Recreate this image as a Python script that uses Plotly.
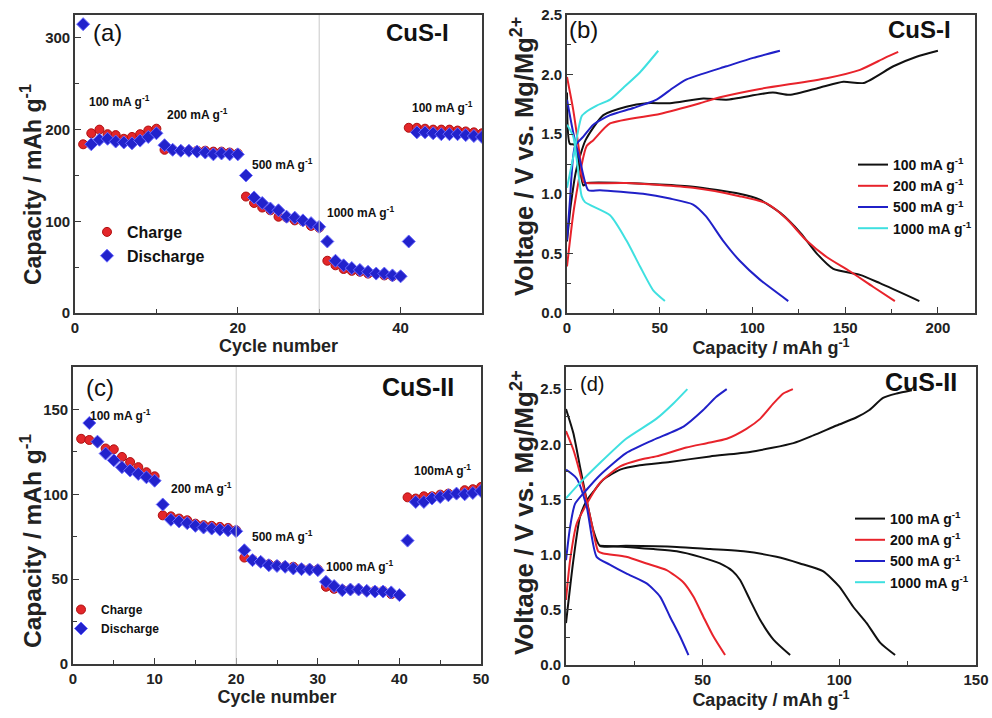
import plotly.graph_objects as go

# ---------------- data ----------------
cycles = list(range(1, 51))

# (a) CuS-I rate capability
a_charge = [184, 196, 200, 195, 194, 190, 192, 195, 199, 201,
            178, 178, 177, 177, 177, 177, 176, 176, 175, 174,
            127, 120, 115, 112, 105, 104, 101, 100, 95, 93,
            57, 52, 48, 46, 45, 43, 43, 41, 40, 40,
            202, 202, 201, 200, 200, 200, 199, 198, 197, 196]
a_discharge = [315, 184, 189, 190, 187, 186, 185, 188, 192, 196,
               183, 178, 177, 177, 176, 175, 173, 174, 173, 173,
               150, 126, 120, 114, 112, 105, 104, 101, 98, 94,
               78, 57, 52, 49, 47, 45, 43, 43, 41, 40,
               78, 197, 197, 196, 195, 195, 195, 194, 193, 192]

# (c) CuS-II rate capability
c_charge = [132.7, 132, 131, 127, 126.5, 122, 119, 116, 113, 110.6,
            87.6, 87, 85.7, 84.7, 82.7, 81.8, 81.4, 80.8, 80.2, 78.8,
            62.7, 61.6, 60.2, 58.8, 58.2, 57.6, 57.3, 56.3, 55.9, 55.7,
            45.5, 44.3, 43.9, 43.9, 43.9, 43.1, 43.1, 43.1, 41.2, 40.6,
            98.2, 97.5, 98.8, 98.8, 99.8, 100.4, 100.4, 102.4, 103, 104.3]
c_discharge = [None, 142, 131, 124, 120, 116, 114, 112, 110, 108,
               94, 85, 84, 83, 81.4, 80.4, 79.8, 79.2, 78.8, 78.2,
               67, 61.2, 60.2, 58.2, 57.8, 57.3, 56.3, 55.9, 55.7, 55.3,
               48.4, 45.9, 43.5, 43.9, 43.9, 43.1, 42.7, 42.7, 42.2, 40.6,
               72.7, 95.5, 95.5, 97.5, 98.4, 99.4, 100.4, 100, 100.8, 102]

# (b) CuS-I voltage profiles (capacity mAh/g, voltage V)
b100_chg_cap = [0, 2, 5, 10, 19.6, 32, 43, 55.5, 73.5, 86, 111, 120, 136, 149, 160, 176, 188.5, 200]
b100_chg_v   = [0.6, 0.9, 1.2, 1.45, 1.66, 1.73, 1.76, 1.76, 1.80, 1.79, 1.85, 1.83, 1.89, 1.94, 1.93, 2.07, 2.15, 2.20]
b100_dis_cap = [0, 1.5, 4.3, 8.8, 10.6, 32, 68, 93, 104, 115, 126, 134.6, 143.6, 158, 168.7, 190]
b100_dis_v   = [1.85, 1.42, 1.41, 1.07, 1.09, 1.09, 1.06, 1.00, 0.95, 0.84, 0.67, 0.50, 0.37, 0.32, 0.25, 0.10]
b200_chg_cap = [0, 4, 10.6, 14.2, 23.2, 50, 71.7, 82.5, 104, 140, 158, 171.4, 178.6]
b200_chg_v   = [0.39, 0.9, 1.40, 1.45, 1.59, 1.67, 1.76, 1.81, 1.88, 1.97, 2.04, 2.14, 2.19]
b200_dis_cap = [0, 3.4, 7, 8.8, 10.6, 32, 68, 93, 107.6, 118.4, 129, 140, 152.5, 165, 176.8]
b200_dis_v   = [1.98, 1.70, 1.31, 1.10, 1.09, 1.09, 1.05, 0.98, 0.92, 0.79, 0.61, 0.47, 0.35, 0.22, 0.10]
b500_chg_cap = [0, 1.6, 4.3, 8.8, 14.2, 23.2, 35.8, 48.3, 57.3, 64.5, 71.7, 86, 100.4, 114.8]
b500_chg_v   = [0.61, 0.95, 1.40, 1.48, 1.58, 1.66, 1.72, 1.79, 1.89, 1.96, 2.00, 2.07, 2.14, 2.20]
b500_dis_cap = [0, 3.4, 7, 11.5, 17.8, 41, 55.5, 68, 75, 84, 93, 104, 119.3]
b500_dis_v   = [1.79, 1.51, 1.28, 1.03, 1.03, 1.00, 0.96, 0.91, 0.81, 0.61, 0.44, 0.28, 0.10]
b1000_chg_cap = [0, 3.4, 7.9, 10.6, 16, 23.2, 30.4, 39.4, 49.2]
b1000_chg_v   = [1.05, 1.31, 1.65, 1.69, 1.74, 1.79, 1.89, 2.02, 2.20]
b1000_dis_cap = [0, 3.4, 7.9, 9.7, 23.2, 32, 39.4, 46.5, 52.8]
b1000_dis_v   = [1.58, 1.48, 0.98, 0.93, 0.82, 0.61, 0.39, 0.19, 0.10]

# (d) CuS-II voltage profiles
d100_chg_cap = [0, 2.7, 5.1, 7.6, 10, 13.7, 19.8, 27, 38, 52.7, 67.3, 83.2, 90.5, 99, 106, 111, 116, 121, 126.5]
d100_chg_v   = [0.38, 0.95, 1.34, 1.49, 1.57, 1.68, 1.77, 1.81, 1.84, 1.89, 1.93, 2.01, 2.08, 2.17, 2.24, 2.31, 2.42, 2.46, 2.49]
d100_dis_cap = [0, 2.7, 5.1, 7.6, 10, 12.4, 22, 40.5, 52.7, 65, 77, 85.6, 94, 100, 105, 110, 115, 120.4]
d100_dis_v   = [2.32, 2.10, 1.80, 1.49, 1.22, 1.08, 1.08, 1.07, 1.05, 1.03, 0.98, 0.92, 0.85, 0.71, 0.53, 0.38, 0.20, 0.09]
d100b_dis_cap = [12.4, 22, 32, 40.5, 49, 56.3, 61, 63.7, 67.3, 71, 75.9, 82]
d100b_dis_v   = [1.08, 1.07, 1.05, 1.03, 0.98, 0.92, 0.85, 0.77, 0.59, 0.41, 0.23, 0.09]
d200_chg_cap = [0, 1.5, 3.9, 7.6, 12.4, 19.8, 27, 33, 44, 51.5, 58.8, 66, 71, 75.9, 79.5, 83]
d200_chg_v   = [0.59, 0.95, 1.28, 1.46, 1.65, 1.80, 1.86, 1.89, 1.97, 2.01, 2.05, 2.14, 2.23, 2.37, 2.46, 2.50]
d200_dis_cap = [0, 2.7, 6.3, 9.4, 11.8, 13.7, 22, 29.5, 36.8, 42.9, 46.6, 50.2, 53.9, 58.2]
d200_dis_v   = [2.12, 1.95, 1.62, 1.28, 1.03, 1.01, 0.98, 0.92, 0.86, 0.75, 0.62, 0.44, 0.26, 0.09]
d500_chg_cap = [0, 1.5, 3.3, 7.6, 12.4, 22, 32, 43, 50.2, 55, 58.8]
d500_chg_v   = [0.95, 1.25, 1.46, 1.59, 1.72, 1.92, 2.04, 2.16, 2.31, 2.43, 2.50]
d500_dis_cap = [0, 3.9, 7.6, 11.2, 16, 22, 29.5, 34.4, 38, 41.7, 44.8]
d500_dis_v   = [1.77, 1.69, 1.43, 0.98, 0.91, 0.83, 0.74, 0.62, 0.44, 0.26, 0.09]
d1000_chg_cap = [0, 5.1, 12.4, 22, 33, 39.3, 44.4]
d1000_chg_v   = [1.51, 1.65, 1.83, 2.05, 2.23, 2.37, 2.50]

rate_labels = ["100 mA g<sup>-1</sup>", "200 mA g<sup>-1</sup>", "500 mA g<sup>-1</sup>", "1000 mA g<sup>-1</sup>"]

# ---------------- styling ----------------
FONT = "Liberation Sans, Arial, sans-serif"
AXC = "#3a3a3a"
RED = "#e3262a"
BLUE = "#2222cc"
COL = {"100": "#111111", "200": "#e8232b", "500": "#2020c8", "1000": "#3fe0e0"}

fig = go.Figure()

# panel (a)
fig.add_trace(go.Scatter(x=cycles, y=a_charge, mode="markers", name="Charge",
                         marker=dict(symbol="circle", size=9, color=RED, line=dict(color="#b01010", width=1)),
                         xaxis="x", yaxis="y", legend="legend"))
fig.add_trace(go.Scatter(x=cycles, y=a_discharge, mode="markers", name="Discharge",
                         marker=dict(symbol="diamond", size=10, color=BLUE, line=dict(color="#6a6aff", width=1)),
                         xaxis="x", yaxis="y", legend="legend"))
# panel (c)
fig.add_trace(go.Scatter(x=cycles, y=c_charge, mode="markers", name="Charge",
                         marker=dict(symbol="circle", size=9, color=RED, line=dict(color="#b01010", width=1)),
                         xaxis="x3", yaxis="y3", legend="legend3"))
fig.add_trace(go.Scatter(x=cycles, y=c_discharge, mode="markers", name="Discharge",
                         marker=dict(symbol="diamond", size=10, color=BLUE, line=dict(color="#6a6aff", width=1)),
                         xaxis="x3", yaxis="y3", legend="legend3"))

# panel (b)
b_sets = [("100", b100_chg_cap, b100_chg_v, b100_dis_cap, b100_dis_v),
          ("200", b200_chg_cap, b200_chg_v, b200_dis_cap, b200_dis_v),
          ("500", b500_chg_cap, b500_chg_v, b500_dis_cap, b500_dis_v),
          ("1000", b1000_chg_cap, b1000_chg_v, b1000_dis_cap, b1000_dis_v)]
for (key, cc, cv, dc, dv), lab in zip(b_sets, rate_labels):
    fig.add_trace(go.Scatter(x=cc, y=cv, mode="lines", name=lab, line=dict(color=COL[key], width=2, shape="spline", smoothing=0.6),
                             xaxis="x2", yaxis="y2", legend="legend2"))
    fig.add_trace(go.Scatter(x=dc, y=dv, mode="lines", name=lab, showlegend=False,
                             line=dict(color=COL[key], width=2, shape="spline", smoothing=0.6),
                             xaxis="x2", yaxis="y2", legend="legend2"))

# panel (d)
d_sets = [("100", d100_chg_cap, d100_chg_v, d100_dis_cap, d100_dis_v),
          ("200", d200_chg_cap, d200_chg_v, d200_dis_cap, d200_dis_v),
          ("500", d500_chg_cap, d500_chg_v, d500_dis_cap, d500_dis_v),
          ("1000", d1000_chg_cap, d1000_chg_v, None, None)]
for (key, cc, cv, dc, dv), lab in zip(d_sets, rate_labels):
    fig.add_trace(go.Scatter(x=cc, y=cv, mode="lines", name=lab, line=dict(color=COL[key], width=2, shape="spline", smoothing=0.6),
                             xaxis="x4", yaxis="y4", legend="legend4"))
    if dc is not None:
        fig.add_trace(go.Scatter(x=dc, y=dv, mode="lines", name=lab, showlegend=False,
                                 line=dict(color=COL[key], width=2, shape="spline", smoothing=0.6),
                                 xaxis="x4", yaxis="y4", legend="legend4"))
fig.add_trace(go.Scatter(x=d100b_dis_cap, y=d100b_dis_v, mode="lines", showlegend=False,
                         line=dict(color=COL["100"], width=2, shape="spline", smoothing=0.6),
                         xaxis="x4", yaxis="y4", legend="legend4"))

# ---------------- axes ----------------
W, H = 992, 718
def px_dom_x(a, b):
    return [a / W, b / W]
def px_dom_y(top, bottom):
    return [1 - bottom / H, 1 - top / H]

tickfont = dict(family=FONT, size=15, color="#222", weight="bold")

def ax(domain, rng, dtick, minor, title, anchor, tsize=18, standoff=2):
    return dict(domain=domain, range=rng, dtick=dtick, tick0=0, ticks="inside", ticklen=6, tickwidth=1.3,
                tickcolor=AXC, showline=True, linecolor=AXC, linewidth=1.6, mirror=True,
                showgrid=False, zeroline=False, tickfont=tickfont, anchor=anchor, automargin=False,
                minor=dict(ticks="inside", dtick=minor, ticklen=4, tickcolor=AXC, showgrid=False),
                title=dict(text=title, font=dict(family=FONT, size=tsize, color="#222", weight="bold"),
                           standoff=standoff))

cap_title = "Capacity / mAh g<sup>-1</sup>"
volt_title = "Voltage / V vs. Mg/Mg<sup>2+</sup>"

fig.update_layout(
    xaxis=ax(px_dom_x(75, 482), [0, 50], 20, 10, "Cycle number", "y", 18, 2),
    yaxis=ax(px_dom_y(15, 313), [0, 325], 100, 50, "", "x"),
    xaxis2=ax(px_dom_x(567, 975), [0, 220], 50, 25, cap_title, "y2", 18, 7),
    yaxis2=ax(px_dom_y(15, 313), [0, 2.5], 0.5, 0.25, "", "x2"),
    xaxis3=ax(px_dom_x(73, 481), [0, 50], 10, 5, "Cycle number", "y3", 18, 2),
    yaxis3=ax(px_dom_y(367, 664), [0, 175], 50, 25, "", "x3"),
    xaxis4=ax(px_dom_x(566, 976), [0, 150], 50, 25, cap_title, "y4", 18, 2),
    yaxis4=ax(px_dom_y(367, 665), [0, 2.7], 0.5, 0.25, "", "x4"),
)
fig.update_layout(yaxis2=dict(tickformat=".1f"), yaxis4=dict(tickformat=".1f"))

# vertical reference lines
fig.add_shape(type="line", xref="x", yref="y domain", x0=30, x1=30, y0=0, y1=1, line=dict(color="#c8c8c8", width=1))
fig.add_shape(type="line", xref="x3", yref="y3 domain", x0=20, x1=20, y0=0, y1=1, line=dict(color="#c8c8c8", width=1))

# ---------------- annotations ----------------
ann = []
def note(text, x, y, xr, yr, size=12, bold=True, xanchor="left"):
    ann.append(dict(text=text, x=x, y=y, xref=xr, yref=yr, showarrow=False, xanchor=xanchor, yanchor="middle",
                    font=dict(family=FONT, size=size, color="#111", weight="bold" if bold else "normal")))

def ytitle(text, cx, cy, size):
    ann.append(dict(text=text, x=cx / W, y=1 - cy / H, xref="paper", yref="paper", showarrow=False,
                    textangle=-90, xanchor="center", yanchor="middle",
                    font=dict(family=FONT, size=size, color="#222", weight="bold")))

ytitle(cap_title, 31, 185, 23)
ytitle(volt_title, 522, 157, 25.5)
ytitle(cap_title, 30, 541, 24.5)
ytitle(volt_title, 522, 513, 26)

note("(a)", 2.0, 306, "x", "y", 24, False)
note("CuS-I", 38.0, 306, "x", "y", 24)
note(rate_labels[0], 1.5, 231, "x", "y")
note(rate_labels[1], 11.1, 217, "x", "y")
note(rate_labels[2], 21.5, 163, "x", "y")
note(rate_labels[3], 30.7, 110, "x", "y")
note(rate_labels[0], 41.2, 225, "x", "y")

note("(b)", 0.0, 2.38, "x2", "y2", 24, False)
note("CuS-I", 172, 2.38, "x2", "y2", 24)

note("(c)", 1.3, 163, "x3", "y3", 24, False)
note("CuS-II", 37.6, 163, "x3", "y3", 25)
note(rate_labels[0], 1.8, 147, "x3", "y3")
note(rate_labels[1], 11.8, 104, "x3", "y3")
note(rate_labels[2], 21.7, 75.5, "x3", "y3")
note(rate_labels[3], 30.8, 58, "x3", "y3")
note("100mA g<sup>-1</sup>", 41.6, 114.5, "x3", "y3")

note("(d)", 4.5, 2.55, "x4", "y4", 20, False)
note("CuS-II", 116, 2.56, "x4", "y4", 25)

fig.update_layout(annotations=ann)

def leg(xpx, ypx, size, gap=0):
    return dict(x=xpx / W, y=1 - ypx / H, xanchor="left", yanchor="top", bgcolor="rgba(0,0,0,0)",
                font=dict(family=FONT, size=size, color="#111", weight="bold"), tracegroupgap=gap,
                itemwidth=30)

fig.update_layout(
    legend=leg(87, 215, 16),
    legend2=leg(853, 149, 14),
    legend3=leg(61, 595, 12),
    legend4=leg(850, 503, 14),
    width=W, height=H, margin=dict(l=0, r=0, t=0, b=0, pad=0, autoexpand=False),
    paper_bgcolor="white", plot_bgcolor="white",
    font=dict(family=FONT),
)

fig.write_html("out.html", config={"displayModeBar": False},
               post_script="document.body.style.margin='0';document.body.style.overflow='hidden';")
